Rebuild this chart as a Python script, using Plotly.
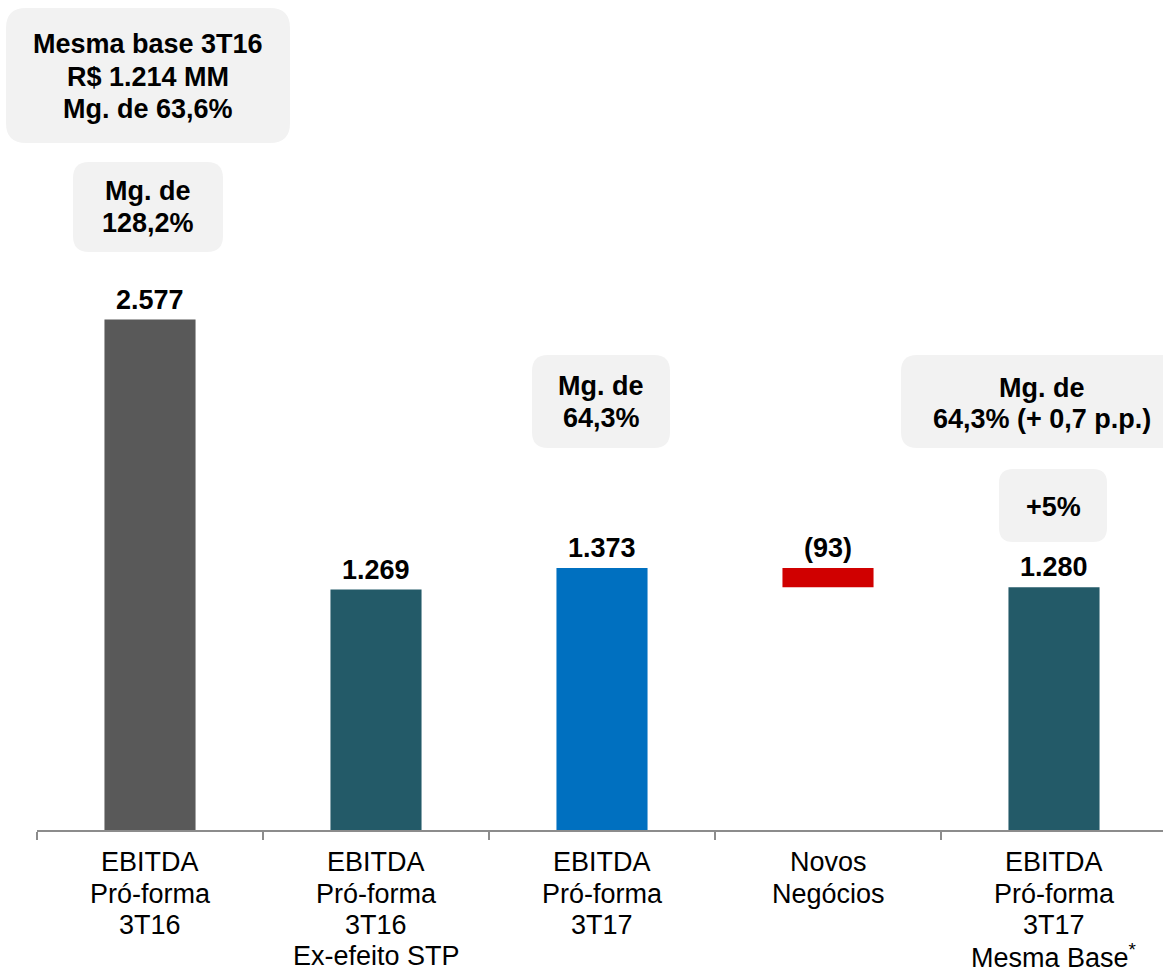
import plotly.graph_objects as go

# ---- data ---------------------------------------------------------------
categories = [
    ["EBITDA", "Pró-forma", "3T16"],
    ["EBITDA", "Pró-forma", "3T16", "Ex-efeito STP"],
    ["EBITDA", "Pró-forma", "3T17"],
    ["Novos", "Negócios"],
    ["EBITDA", "Pró-forma", "3T17", "Mesma Base<sup>*</sup>"],
]
values = [2577, 1269, 1373, -93, 1280]          # R$ MM (negative = reduction)
bases = [0, 0, 0, 1373, 0]                      # floating start of each bar
bar_colors = ["#595959", "#235a68", "#0070c0", "#d00000", "#235a68"]

# callout boxes: text lines
callouts = [
    ["Mesma base 3T16", "R$ 1.214 MM", "Mg. de 63,6%"],
    ["Mg. de", "128,2%"],
    ["Mg. de", "64,3%"],
    ["Mg. de", "64,3% (+ 0,7 p.p.)"],
    ["+5%"],
]

# ---- geometry -----------------------------------------------------------
W, H = 1163, 972
L, B = 37, 142
PW, PH = W - L, H - B
CAT_PX = 226.0
X_RANGE = [-0.5, -0.5 + PW / CAT_PX]
Y0, Y_SCALE = 104, 0.2064
Y_RANGE = [Y0, Y0 + PH / Y_SCALE]

FONT = "Liberation Sans, Arial, DejaVu Sans, sans-serif"
FS = 27


def xp(px):
    return (px - L) / PW


def yp(py):
    return (PH - py) / PH


def center_from_baseline(baseline, size=FS):
    return baseline - 0.35 * size


def fmt(v):
    s = f"{abs(v):,}".replace(",", ".")
    return f"({s})" if v < 0 else s


fig = go.Figure()
fig.add_trace(go.Bar(
    x=list(range(len(values))),
    y=values,
    base=bases,
    width=0.403,
    marker=dict(color=bar_colors, line=dict(width=0)),
    hoverinfo="skip",
    showlegend=False,
))

annotations = []
shapes = []

# value labels above each bar
for i, (v, b) in enumerate(zip(values, bases)):
    top = max(b, b + v)
    annotations.append(dict(
        x=i, y=top, xref="x", yref="y", text=f"<b>{fmt(v)}</b>",
        showarrow=False, yanchor="bottom", yshift=3,
        font=dict(family=FONT, size=FS, color="black"),
    ))

# category labels, one line at a time
LABEL_BASELINES = [871.5, 903, 934.5, 965.5]
for i, lines in enumerate(categories):
    for j, line in enumerate(lines):
        annotations.append(dict(
            x=i, xref="x", y=yp(center_from_baseline(LABEL_BASELINES[j])),
            yref="paper", text=line, showarrow=False, yanchor="middle",
            font=dict(family=FONT, size=FS, color="black"),
        ))

# callout boxes (pixel layout: x0, x1, y0, y1, radius, text centre x, baselines)
box_layout = [
    (6, 290, 8, 143, 20, 148, [53, 86, 118]),
    (73, 223, 162, 252, 16, 148, [200, 232]),
    (532, 670, 355, 448, 16, 601, [395, 427]),
    (901, 1183, 355, 448, 16, 1042, [397, 428]),
    (999, 1107, 469, 542, 14, 1053, [516]),
]


def rounded_path(x0, x1, y0, y1, r):
    a, bx = xp(x0), xp(x1)
    top, bot = yp(y0), yp(y1)
    rx, ry = r / PW, r / PH
    return (f"M {a + rx},{top} L {bx - rx},{top} Q {bx},{top} {bx},{top - ry} "
            f"L {bx},{bot + ry} Q {bx},{bot} {bx - rx},{bot} "
            f"L {a + rx},{bot} Q {a},{bot} {a},{bot + ry} "
            f"L {a},{top - ry} Q {a},{top} {a + rx},{top} Z")


for lines, (x0, x1, y0, y1, r, cx, baselines) in zip(callouts, box_layout):
    shapes.append(dict(
        type="path", xref="paper", yref="paper",
        path=rounded_path(x0, x1, y0, y1, r),
        fillcolor="#f2f2f2", line=dict(width=0), layer="below",
    ))
    for line, bl in zip(lines, baselines):
        annotations.append(dict(
            x=xp(cx), xref="paper", y=yp(center_from_baseline(bl)),
            yref="paper", text=f"<b>{line}</b>", showarrow=False,
            yanchor="middle", xanchor="center",
            font=dict(family=FONT, size=FS, color="black"),
        ))

fig.update_layout(
    width=W, height=H,
    margin=dict(l=L, r=0, t=0, b=B, pad=0),
    paper_bgcolor="white", plot_bgcolor="white",
    xaxis=dict(
        range=X_RANGE, showgrid=False, zeroline=False,
        showline=True, linecolor="#8c8c8c", linewidth=1.5,
        tickmode="array", tickvals=[k - 0.5 for k in range(len(values) + 1)],
        ticks="outside", ticklen=8, tickwidth=1.5, tickcolor="#8c8c8c",
        showticklabels=False, fixedrange=True,
    ),
    yaxis=dict(range=Y_RANGE, visible=False, fixedrange=True),
    annotations=annotations,
    shapes=shapes,
    showlegend=False,
)

fig.write_html("out.html", config={"displayModeBar": False})
